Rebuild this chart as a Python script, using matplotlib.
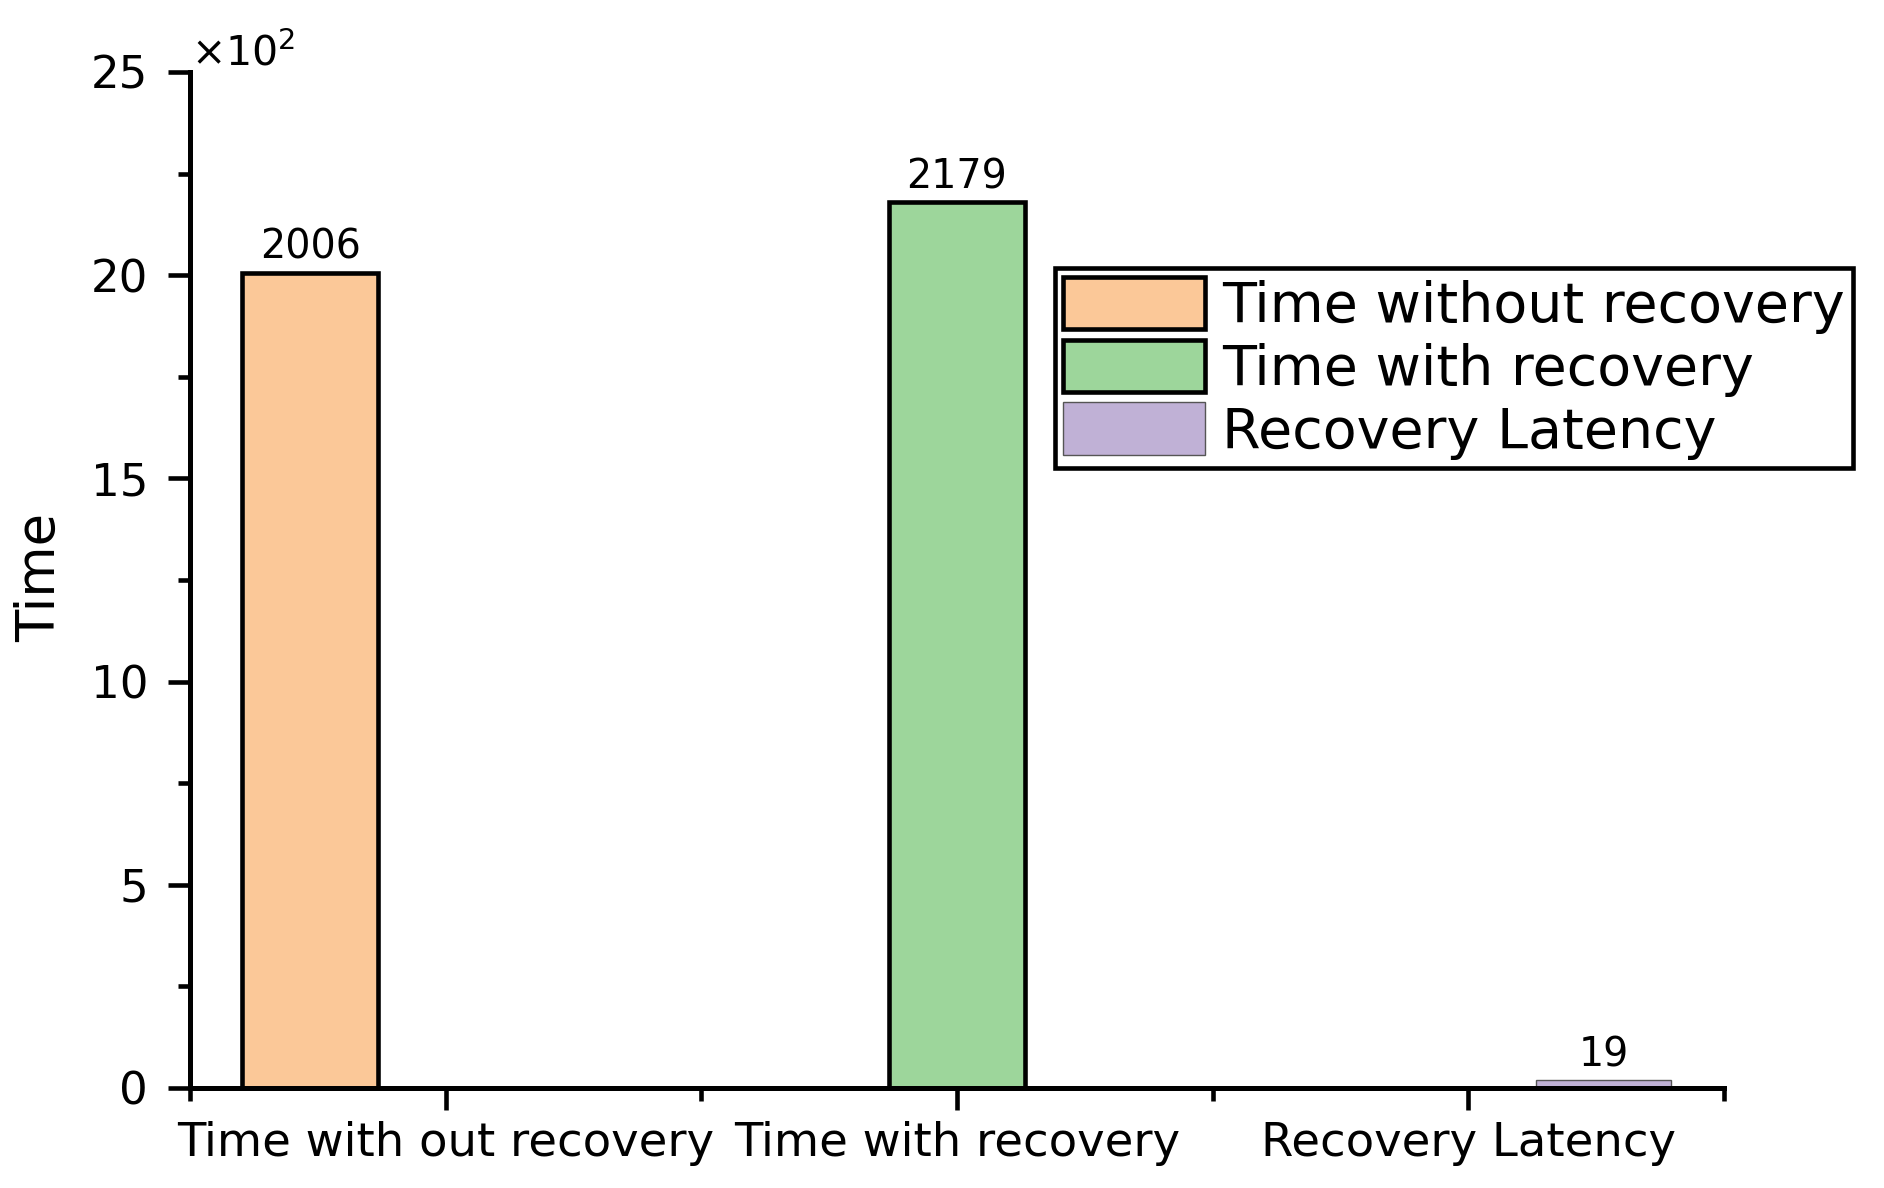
import numpy as np
import matplotlib
matplotlib.use('Agg')
import matplotlib.pyplot as plt
from matplotlib.ticker import MultipleLocator, FixedLocator

plt.rcParams['font.family'] = ['DejaVu Sans']
plt.rcParams['mathtext.fontset'] = 'dejavusans'

# data
categories = ['Time with out recovery', 'Time with recovery', 'Recovery Latency']
series_names = ['Time without recovery', 'Time with recovery', 'Recovery Latency']
series_values = [2006, 2179, 19]
colors = ['#FBC898', '#9DD69B', '#C0B1D6']
edge_colors = ['black', 'black', '#555555']
edge_widths = [3.3, 3.3, 1.0]
scale = 100  # axis shown as x10^2

fig = plt.figure(figsize=(18.84, 11.88), dpi=100)
ax = fig.add_axes([0.1008, 0.0842, 0.8142, 0.8552])

x = np.arange(len(categories))
width = 0.265
offsets = [-width, 0, width]

for i, name in enumerate(series_names):
    # each series only has a value in its own category
    val = series_values[i] / scale
    ax.bar(x[i] + offsets[i], val, width, color=colors[i],
           edgecolor=edge_colors[i], linewidth=edge_widths[i], label=name)
    ax.text(x[i] + offsets[i], val + 0.12, str(series_values[i]),
            ha='center', va='bottom', fontsize=28.5)

ax.set_xlim(-0.5, 2.5)
ax.set_ylim(0, 25)
ax.set_xticks(x)
ax.set_xticklabels(categories, fontsize=33.5)
ax.xaxis.set_minor_locator(FixedLocator([-0.5, 0.5, 1.5, 2.5]))
ax.yaxis.set_major_locator(MultipleLocator(5))
ax.yaxis.set_minor_locator(MultipleLocator(2.5))
ax.tick_params(axis='y', labelsize=32.5, pad=14)
ax.tick_params(axis='x', pad=8)
ax.tick_params(which='major', direction='out', length=16, width=3.3)
ax.tick_params(which='minor', direction='out', length=9, width=3.3)

for s in ['top', 'right']:
    ax.spines[s].set_visible(False)
for s in ['left', 'bottom']:
    ax.spines[s].set_linewidth(3.6)

fig.text(0.021, 0.514, 'Time', fontsize=38, rotation=90, ha='center', va='center')
fig.text(0.1015, 0.955, r'×10$^{2}$', fontsize=29.5, ha='left', va='center')

leg = ax.legend(loc='upper left', bbox_to_anchor=(0.56, 0.774),
                bbox_transform=fig.transFigure, fontsize=40, frameon=True,
                fancybox=False, edgecolor='black', framealpha=1,
                handlelength=2.55, handleheight=1.08, labelspacing=0.1,
                handletextpad=0.3, borderpad=0.15, borderaxespad=0)
leg.get_frame().set_linewidth(3.3)

fig.savefig('out.png', dpi=100, facecolor='white')
